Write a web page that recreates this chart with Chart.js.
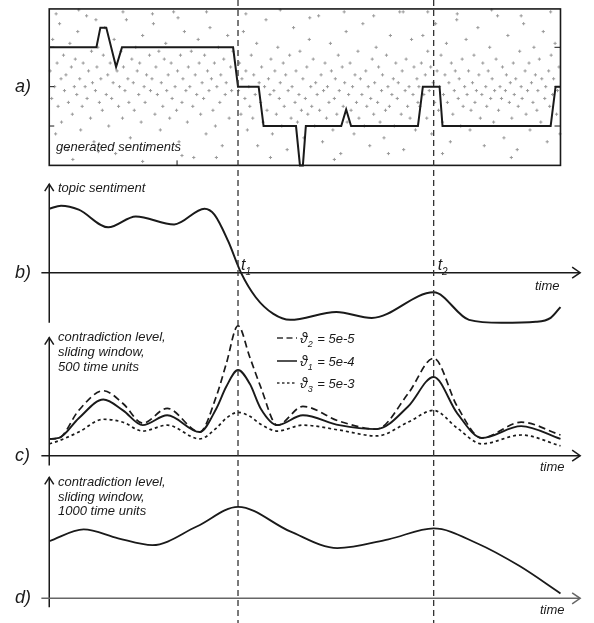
<!DOCTYPE html>
<html>
<head>
<meta charset="utf-8">
<script src="https://cdn.jsdelivr.net/npm/chart.js@4/dist/chart.umd.min.js"></script>
<style>
  body { margin: 0; background: #fff; }
  #wrap { width: 594px; height: 623px; position: relative; }
</style>
</head>
<body>
<div id="wrap"><canvas id="chart"></canvas></div>
<script>
// time runs 0..1040 on all four panels, t1 and t2 mark the two change points
const t1 = 384;
const t2 = 782;

// a) generated sentiment levels (step signal)
const stepT = [0, 96, 104, 116, 136, 148, 374, 384, 426, 436, 502, 510, 516, 522, 594, 604, 614, 750, 760, 794, 800, 1020, 1030, 1040];
const stepV = [3, 3, 3.5, 3.5, 2.5, 3, 3, 2, 2, 1, 1, 0, 0, 1, 1, 1.42, 1, 1, 2, 2, 1, 1, 2, 2];

// a) noisy sentiment samples [time, sentiment]
const samples = [
  [2,2.4],[5,1.7],[7,3.2],[11,2.0],[13,0.8],[16,2.6],[18,1.5],[21,3.6],[24,2.2],[25,1.1],
  [29,2.8],[31,1.9],[34,2.3],[38,0.4],[39,1.6],[42,3.1],[45,2.5],[47,1.3],[51,2.0],[53,2.7],
  [56,1.8],[58,3.4],[62,2.2],[64,0.9],[67,1.5],[69,2.6],[73,2.0],[76,3.8],[77,1.7],[80,2.4],
  [84,1.2],[86,2.9],[88,2.1],[91,0.6],[94,1.9],[97,2.5],[99,3.0],[102,1.6],[105,2.2],[108,1.4],
  [110,2.8],[113,3.5],[116,1.8],[119,2.3],[121,1.0],[124,2.6],[127,1.7],[130,2.1],[132,3.2],[135,0.3],
  [138,2.4],[141,1.5],[143,2.0],[146,2.9],[149,1.2],[151,2.5],[154,1.9],[157,3.7],[160,2.2],[162,1.6],
  [165,0.7],[168,2.7],[171,2.1],[173,1.4],[176,3.0],[179,2.4],[182,1.8],[184,2.6],[187,1.1],[190,3.3],
  [193,2.0],[195,1.6],[198,2.3],[201,0.5],[204,2.8],[206,1.9],[209,2.2],[212,3.6],[215,1.3],[217,2.5],
  [220,1.8],[223,2.9],[226,0.9],[228,2.1],[231,1.5],[234,2.7],[237,3.1],[239,1.9],[242,2.3],[245,1.2],
  [248,2.6],[250,1.7],[253,3.9],[256,2.0],[259,1.4],[261,2.4],[264,0.6],[267,2.8],[270,1.6],[272,2.2],
  [275,3.4],[278,1.9],[281,1.1],[283,2.5],[286,2.0],[289,2.9],[292,1.5],[294,0.2],[297,2.3],[300,1.8],
  [303,3.2],[305,2.6],[308,1.3],[311,2.1],[314,1.7],[316,2.8],[319,0.8],[322,2.4],[325,1.9],[327,3.5],
  [330,2.2],[333,1.4],[336,2.6],[338,1.0],[341,2.0],[344,3.0],[347,1.6],[349,2.3],[352,0.5],[355,2.7],
  [358,1.8],[360,2.1],[363,3.3],[366,1.2],[369,2.5],[371,1.9],[374,2.9],
  [14,3.85],[60,3.95],[95,3.7],[150,3.9],[210,3.85],[262,3.75],[320,3.9],[48,0.15],[190,0.1],[340,0.2],[100,0.35],[270,0.25],
  [385,1.9],[387,2.6],[390,1.3],[392,2.2],[395,3.4],[398,1.7],[400,2.4],[403,0.9],[406,2.0],[408,1.5],
  [411,2.8],[414,1.2],[416,2.3],[419,1.8],[422,3.1],[424,0.5],[427,2.1],[430,1.6],[432,2.5],[435,1.1],
  [438,2.0],[441,3.7],[443,1.4],[446,2.2],[449,1.8],[451,2.7],[454,0.8],[457,1.9],[459,2.4],[462,1.3],
  [465,3.0],[468,1.7],[470,2.1],[473,1.0],[476,2.6],[478,1.5],[481,2.3],[484,0.4],[486,1.9],[489,2.8],
  [492,1.2],[494,2.0],[497,3.5],[500,1.6],[502,2.4],[505,1.1],[508,1.8],[510,2.9],[513,1.4],[516,2.2],
  [518,0.7],[521,1.7],[524,2.5],[526,1.3],[529,3.2],[532,2.0],[534,1.5],[537,2.7],[540,1.0],[542,2.1],
  [545,1.8],[548,3.8],[550,1.4],[553,2.3],[556,0.6],[558,1.9],[561,2.6],[564,1.2],[566,2.0],[569,1.6],
  [572,3.1],[574,2.4],[577,0.9],[580,1.7],[582,2.2],[585,1.3],[588,2.8],[590,1.9],[593,0.3],[596,2.5],
  [598,1.5],[601,2.1],[604,3.4],[606,1.1],[609,1.8],[612,2.6],[614,1.4],[617,2.0],[620,0.8],[622,2.3],
  [625,1.6],[628,2.9],[630,1.2],[633,2.2],[636,1.8],[638,3.6],[641,1.0],[644,2.4],[646,1.5],[649,2.0],
  [652,0.5],[654,1.7],[657,2.7],[660,1.3],[662,2.1],[665,3.0],[668,1.6],[670,2.5],[673,1.1],[676,1.9],
  [678,2.3],[681,0.7],[684,1.4],[686,2.8],[689,2.0],[692,1.5],[694,3.3],[697,1.8],[700,2.2],[702,1.0],
  [705,2.6],[708,1.7],[710,2.1],[713,3.9],[716,1.3],[718,2.4],[721,0.4],[724,1.9],[726,2.7],[729,1.5],
  [732,2.0],[734,1.2],[737,3.2],[740,1.8],[742,2.5],[745,0.9],[748,2.2],[750,1.6],
  [400,3.85],[470,3.95],[530,3.75],[600,3.9],[660,3.8],[720,3.9],[450,0.2],[580,0.15],[690,0.3],
  [752,2.0],[754,1.5],[757,2.6],[760,3.3],[762,1.8],[765,2.3],[768,1.2],[770,2.9],[773,1.9],[776,2.5],
  [778,0.8],[781,2.1],[784,1.6],[786,3.6],[789,2.4],[792,1.4],[794,2.0],[797,2.8],[800,1.1],[802,1.8],
  [805,2.3],[808,3.1],[810,1.6],[813,2.1],[816,0.6],[818,2.6],[821,1.3],[824,1.9],[826,2.4],[829,3.7],
  [832,1.7],[834,2.2],[837,1.0],[840,2.7],[842,1.5],[845,2.0],[848,3.2],[850,1.8],[853,2.4],[856,0.9],
  [858,1.4],[861,2.1],[864,2.8],[866,1.6],[869,1.9],[872,3.5],[874,2.3],[877,1.2],[880,1.8],[882,2.6],
  [885,0.5],[888,2.0],[890,1.5],[893,2.4],[896,3.0],[898,1.7],[901,2.2],[904,1.1],[906,1.9],[909,2.7],
  [912,3.8],[914,1.4],[917,2.0],[920,1.7],[922,2.5],[925,0.7],[928,1.9],[930,2.3],[933,3.3],[936,1.6],
  [938,2.1],[941,1.2],[944,2.6],[946,1.8],[949,2.2],[952,0.4],[954,1.5],[957,2.9],[960,2.0],[962,1.7],
  [965,3.6],[968,2.4],[970,1.3],[973,1.9],[976,2.6],[978,0.9],[981,2.1],[984,1.6],[986,3.0],[989,2.3],
  [992,1.4],[994,1.9],[997,2.7],[1000,1.1],[1002,2.2],[1005,3.4],[1008,1.7],[1010,2.0],[1013,0.6],[1016,2.4],
  [1018,1.5],[1021,2.8],[1024,1.8],[1026,2.2],[1029,3.1],[1032,1.3],[1034,1.9],[1037,2.5],[1039,0.8],
  [770,3.9],[830,3.85],[900,3.95],[960,3.8],[1020,3.9],[800,0.3],[940,0.2]
];

// b) topic sentiment
const sentT = [0, 24, 60, 120, 176, 254, 316, 336, 364, 390, 420, 456, 490, 584, 656, 782, 854, 920, 990, 1020, 1040];
const sentV = [1.30, 1.36, 1.28, 0.92, 1.14, 0.98, 1.30, 1.18, 0.64, 0.0, -0.50, -0.84, -0.96, -0.80, -0.92, -0.40, -0.96, -1.02, -1.0, -0.92, -0.70];

// c) contradiction level, window 500
const contrT = [0, 20, 60, 110, 150, 190, 240, 306, 340, 360, 384, 408, 430, 464, 516, 590, 666, 730, 782, 830, 880, 960, 1040];
const theta1 = [0.425, 0.45, 0.95, 1.425, 1.15, 0.775, 1.025, 0.6, 1.2, 1.75, 2.175, 1.825, 1.2, 0.775, 1.025, 0.775, 0.675, 1.25, 2.0, 1.075, 0.45, 0.75, 0.425];
const theta2 = [0.425, 0.45, 1.15, 1.65, 1.325, 0.825, 1.2, 0.6, 1.51, 2.33, 3.3, 2.5, 1.75, 0.775, 1.25, 0.875, 0.675, 1.575, 2.475, 1.25, 0.45, 0.85, 0.525];
const theta3 = [0.3, 0.38, 0.6, 0.925, 0.85, 0.625, 0.775, 0.425, 0.7, 0.95, 1.1, 1.0, 0.8, 0.625, 0.775, 0.65, 0.5, 0.85, 1.15, 0.7, 0.3, 0.525, 0.25];

// d) contradiction level, window 1000
const longT = [0, 70, 140, 210, 300, 384, 490, 586, 690, 782, 870, 956, 1040];
const longV = [1.45, 1.75, 1.525, 1.35, 1.825, 2.325, 1.7, 1.275, 1.5, 1.775, 1.4, 0.825, 0.125];

const FONT = '"Liberation Sans", Arial, sans-serif';
const INK = '#1a1a1a';

function pts(xs, ys) {
    return xs.map((x, i) => ({ x: x, y: ys[i] }));
}

function curve(data, axis, extra) {
    return Object.assign({
        type: 'line',
        data: data,
        yAxisID: axis,
        borderColor: INK,
        borderWidth: 1.7,
        pointRadius: 0,
        fill: false,
        cubicInterpolationMode: 'monotone'
    }, extra || {});
}

function chevronUp(ctx, x, y) {
    ctx.beginPath();
    ctx.moveTo(x - 4.5, y + 7);
    ctx.lineTo(x, y);
    ctx.lineTo(x + 4.5, y + 7);
    ctx.stroke();
}

function chevronRight(ctx, x, y) {
    ctx.beginPath();
    ctx.moveTo(x - 8, y - 5.5);
    ctx.lineTo(x, y);
    ctx.lineTo(x - 8, y + 5.5);
    ctx.stroke();
}

function subLabel(ctx, x, y, main, sub, size) {
    ctx.font = 'italic ' + size + 'px ' + FONT;
    ctx.fillText(main, x, y);
    const w = ctx.measureText(main).width;
    ctx.font = 'italic ' + Math.round(size * 0.62) + 'px ' + FONT;
    ctx.fillText(sub, x + w, y + size * 0.3);
    return x + w + ctx.measureText(sub).width;
}

const overlay = {
    id: 'overlay',
    afterDatasetsDraw(chart) {
        const { ctx, scales } = chart;
        const X = v => scales.x.getPixelForValue(v);
        ctx.save();
        ctx.strokeStyle = INK;
        ctx.fillStyle = INK;
        ctx.lineCap = 'butt';

        // panel a frame with inner ticks
        const ya = scales.ya;
        const left = X(0), right = X(1040);
        const top = ya.getPixelForValue(3.975), bottom = ya.getPixelForValue(0);
        ctx.lineWidth = 1.6;
        ctx.strokeRect(left, top, right - left, bottom - top);
        ctx.lineWidth = 1;
        [1, 2, 3].forEach(v => {
            const y = ya.getPixelForValue(v);
            ctx.beginPath();
            ctx.moveTo(left, y); ctx.lineTo(left + 5, y);
            ctx.moveTo(right, y); ctx.lineTo(right - 6, y);
            ctx.stroke();
        });
        ctx.beginPath();
        ctx.moveTo(X(260), bottom); ctx.lineTo(X(260), bottom - 5);
        ctx.stroke();

        // arrow axes of panels b, c, d
        const axes = [
            { id: 'yb', top: 1.8, bottom: -1.02, color: INK },
            { id: 'yc', top: 3.0, bottom: -0.25, color: INK },
            { id: 'yd', top: 3.075, bottom: -0.225, color: '#666' }
        ];
        axes.forEach(a => {
            const s = scales[a.id];
            const y0 = s.getPixelForValue(0);
            const yt = s.getPixelForValue(a.top);
            ctx.lineWidth = 1.5;
            ctx.strokeStyle = INK;
            ctx.beginPath();
            ctx.moveTo(X(0), s.getPixelForValue(a.bottom));
            ctx.lineTo(X(0), yt);
            ctx.stroke();
            chevronUp(ctx, X(0), yt);
            ctx.strokeStyle = a.color;
            ctx.beginPath();
            ctx.moveTo(X(-16), y0);
            ctx.lineTo(X(1080), y0);
            ctx.stroke();
            chevronRight(ctx, X(1080), y0);
        });

        // change point markers
        ctx.strokeStyle = '#333';
        ctx.lineWidth = 1.3;
        ctx.setLineDash([6, 4]);
        [t1, t2].forEach(t => {
            ctx.beginPath();
            ctx.moveTo(X(t), 0);
            ctx.lineTo(X(t), chart.height);
            ctx.stroke();
        });
        ctx.setLineDash([]);

        // texts
        ctx.fillStyle = INK;
        ctx.textBaseline = 'middle';
        ctx.font = 'italic 18px ' + FONT;
        ctx.fillText('a)', 15, ya.getPixelForValue(2));
        ctx.fillText('b)', 15, scales.yb.getPixelForValue(0));
        ctx.fillText('c)', 15, scales.yc.getPixelForValue(0));
        ctx.fillText('d)', 15, scales.yd.getPixelForValue(0));

        ctx.font = 'italic 13px ' + FONT;
        ctx.fillText('generated sentiments', 56, ya.getPixelForValue(0.45));
        ctx.fillText('topic sentiment', 58, scales.yb.getPixelForValue(1.72));
        ['contradiction level,', 'sliding window,', '500 time units'].forEach((s, i) => {
            ctx.fillText(s, 58, scales.yc.getPixelForValue(3.0 - i * 0.375));
        });
        ['contradiction level,', 'sliding window,', '1000 time units'].forEach((s, i) => {
            ctx.fillText(s, 58, scales.yd.getPixelForValue(2.95 - i * 0.375));
        });
        ctx.fillText('time', 535, scales.yb.getPixelForValue(-0.28));
        ctx.fillText('time', 540, scales.yc.getPixelForValue(-0.3));
        ctx.fillText('time', 540, scales.yd.getPixelForValue(-0.3));

        ctx.textBaseline = 'alphabetic';
        const yt = scales.yb.getPixelForValue(0.05);
        subLabel(ctx, X(t1) + 3, yt, 't', '1', 16);
        subLabel(ctx, X(t2) + 4, yt, 't', '2', 16);

        // legend of panel c
        const legend = [
            { dash: [6, 3.5], num: '2', val: '5e-5', y: 338 },
            { dash: [], num: '1', val: '5e-4', y: 361 },
            { dash: [2.5, 2.5], num: '3', val: '5e-3', y: 383 }
        ];
        legend.forEach(l => {
            ctx.lineWidth = 1.7;
            ctx.setLineDash(l.dash);
            ctx.beginPath();
            ctx.moveTo(277, l.y);
            ctx.lineTo(297, l.y);
            ctx.stroke();
            ctx.setLineDash([]);
            const endX = subLabel(ctx, 300, l.y + 5, 'ϑ', l.num, 14);
            ctx.font = 'italic 13px ' + FONT;
            ctx.fillText(' = ' + l.val, endX + 1, l.y + 5);
        });
        ctx.restore();
    }
};

new Chart(document.getElementById('chart'), {
    data: {
        datasets: [
            curve(pts(stepT, stepV), 'ya', { borderWidth: 2, cubicInterpolationMode: 'default', tension: 0, order: 1 }),
            {
                type: 'scatter',
                data: samples.map(p => ({ x: p[0], y: p[1] })),
                yAxisID: 'ya',
                pointStyle: 'cross',
                pointRadius: 1.6,
                borderWidth: 1,
                borderColor: '#9a9a9a',
                order: 5
            },
            curve(pts(sentT, sentV), 'yb', { borderWidth: 2 }),
            curve(pts(contrT, theta2), 'yc', { borderDash: [7, 4] }),
            curve(pts(contrT, theta1), 'yc', { borderWidth: 1.9 }),
            curve(pts(contrT, theta3), 'yc', { borderDash: [3, 3] }),
            curve(pts(longT, longV), 'yd', { borderWidth: 1.8 })
        ]
    },
    options: {
        responsive: true,
        maintainAspectRatio: false,
        animation: false,
        devicePixelRatio: 1,
        events: [],
        layout: { padding: 0 },
        plugins: { legend: { display: false }, tooltip: { enabled: false } },
        scales: {
            x: { type: 'linear', min: -90, max: 1098, display: false },
            ya: { type: 'linear', min: -11.5, max: 4.075, display: false },
            yb: { type: 'linear', min: -7.02, max: 5.44, display: false },
            yc: { type: 'linear', min: -4.125, max: 11.45, display: false },
            yd: { type: 'linear', min: -0.5, max: 15.075, display: false }
        }
    },
    plugins: [overlay]
});
</script>
</body>
</html>
